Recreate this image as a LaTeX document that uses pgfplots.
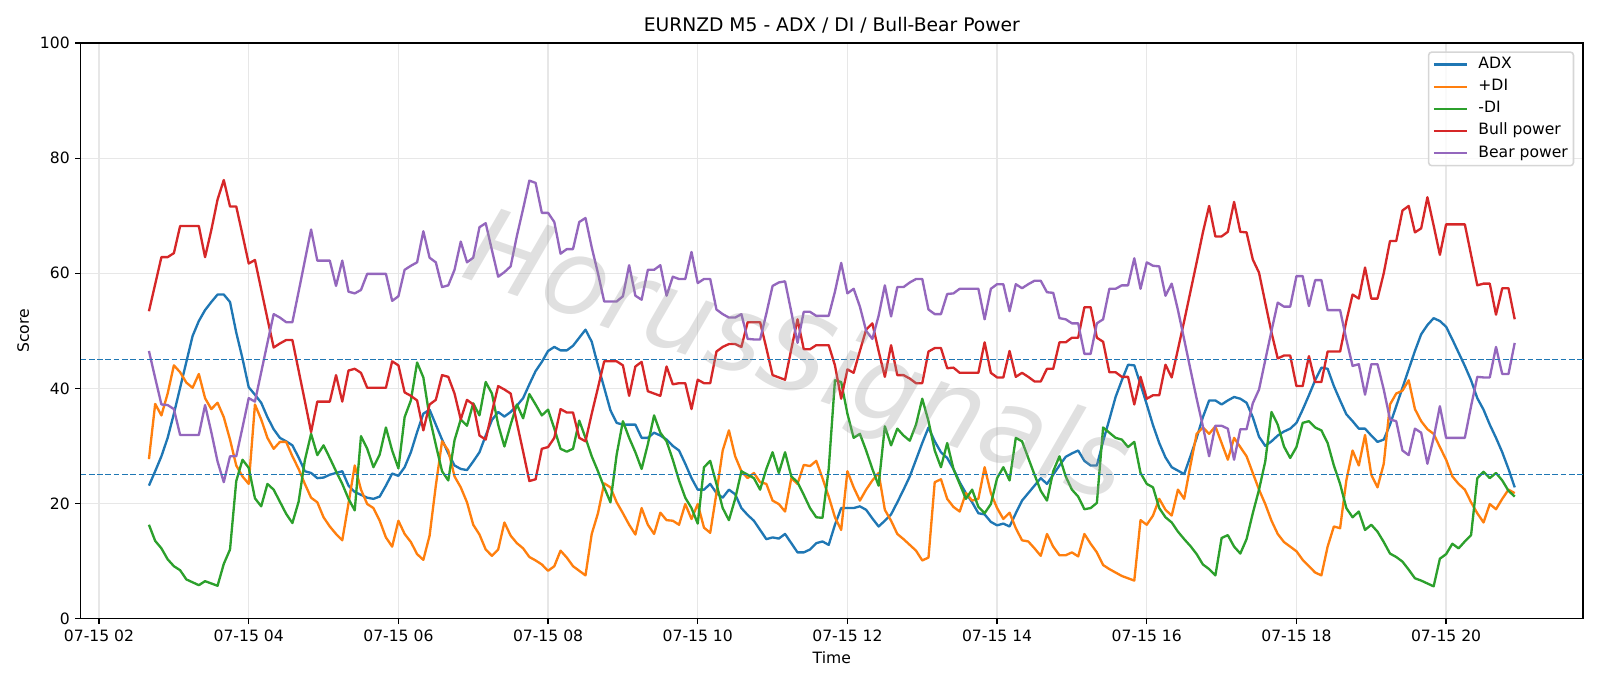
\documentclass[border=0pt]{standalone}
\usepackage{fontspec}
\setmainfont{DejaVu Sans}
\usepackage{pgfplots}
\pgfplotsset{compat=1.18}
\usepackage{pgfplotstable}
\definecolor{tabblue}{HTML}{1F77B4}
\definecolor{taborange}{HTML}{FF7F0E}
\definecolor{tabgreen}{HTML}{2CA02C}
\definecolor{tabred}{HTML}{D62728}
\definecolor{tabpurple}{HTML}{9467BD}
\definecolor{gridgray}{HTML}{E7E7E7}
\definecolor{legendgray}{HTML}{D6D6D6}

\pgfplotstableread{
i adx pdi mdi bull bear
0 23.1 27.7 16.3 53.4 46.5
1 25.6 37.3 13.5 58.1 41.8
2 28.2 35.3 12.2 62.8 37.2
3 31.4 39.1 10.3 62.8 37.1
4 35.6 44.0 9.1 63.5 36.4
5 40.1 42.8 8.4 68.2 31.9
6 44.6 41.0 6.8 68.2 31.9
7 49.1 40.1 6.3 68.2 31.9
8 51.7 42.5 5.8 68.2 31.9
9 53.6 38.3 6.5 62.8 37.1
10 55.0 36.4 6.1 67.5 32.4
11 56.3 37.5 5.7 72.8 27.3
12 56.3 35.0 9.5 76.2 23.7
13 55.0 31.1 12.0 71.6 28.2
14 49.7 26.6 23.9 71.6 28.2
15 45.2 24.7 27.6 66.7 33.2
16 40.2 23.4 26.2 61.7 38.3
17 38.9 37.2 20.9 62.3 37.7
18 37.5 34.6 19.5 57.2 42.8
19 35.0 31.4 23.4 52.1 47.9
20 32.9 29.5 22.4 47.1 52.9
21 31.4 30.7 20.3 47.8 52.3
22 30.8 30.7 18.2 48.4 51.5
23 30.1 28.2 16.6 48.4 51.5
24 28.0 26.0 20.3 43.1 56.8
25 25.6 23.4 27.5 37.8 62.2
26 25.3 21.0 32.1 32.4 67.6
27 24.4 20.2 28.4 37.7 62.2
28 24.5 17.6 30.1 37.7 62.2
29 25.0 16.0 27.9 37.7 62.2
30 25.3 14.7 25.6 42.3 57.8
31 25.6 13.6 23.4 37.7 62.2
32 23.1 20.0 20.8 43.1 56.8
33 22.0 26.6 18.8 43.4 56.5
34 21.5 22.4 31.7 42.7 57.1
35 21.0 19.9 29.5 40.1 59.9
36 20.8 19.2 26.3 40.1 59.9
37 21.2 17.0 28.5 40.1 59.9
38 23.1 14.1 33.2 40.1 59.9
39 25.2 12.5 29.2 44.7 55.2
40 24.8 17.0 26.1 44.0 56.0
41 26.3 14.7 35.0 39.3 60.6
42 28.9 13.3 37.9 38.7 61.3
43 32.4 11.2 44.5 37.9 61.9
44 35.6 10.2 41.9 32.7 67.3
45 36.3 14.4 35.0 37.2 62.7
46 33.7 23.1 30.2 38.0 61.9
47 31.1 30.8 25.6 42.3 57.6
48 28.7 29.2 24.0 42.0 57.9
49 26.6 24.7 31.0 39.1 60.6
50 26.0 22.8 34.6 34.6 65.5
51 25.8 20.2 33.5 38.0 61.9
52 27.3 16.3 37.4 37.2 62.7
53 28.9 14.6 35.3 31.8 68.0
54 31.8 12.0 41.1 31.1 68.7
55 34.5 10.9 39.1 35.9 64.0
56 35.9 12.0 33.7 40.4 59.4
57 35.1 16.7 29.9 39.8 60.2
58 35.9 14.4 33.7 39.1 61.2
59 37.0 13.1 37.2 34.0 66.5
60 38.3 12.2 34.8 29.0 71.2
61 40.7 10.7 39.0 23.9 76.1
62 43.0 10.1 37.2 24.2 75.7
63 44.6 9.4 35.3 29.5 70.5
64 46.5 8.3 36.3 29.8 70.5
65 47.2 9.1 33.0 31.4 68.9
66 46.6 11.8 29.5 36.4 63.4
67 46.6 10.6 29.0 35.8 64.2
68 47.4 9.1 29.5 35.8 64.2
69 48.8 8.3 34.4 31.4 68.9
70 50.2 7.5 31.4 30.8 69.6
71 48.1 14.7 28.2 35.6 64.5
72 44.0 18.3 25.6 40.1 60.0
73 40.1 23.5 22.8 44.7 55.1
74 36.2 22.8 20.2 44.7 55.1
75 34.0 20.2 28.5 44.7 55.1
76 33.7 18.3 34.3 44.0 56.0
77 33.7 16.3 31.4 38.7 61.4
78 33.7 14.6 28.9 43.8 56.1
79 31.4 19.2 26.0 44.6 55.4
80 31.4 16.3 30.3 39.5 60.6
81 32.3 14.7 35.3 39.1 60.6
82 31.8 18.4 32.3 38.7 61.4
83 31.1 17.1 30.8 43.8 56.1
84 30.0 17.0 27.6 40.7 59.4
85 29.2 16.3 24.0 40.9 59.0
86 26.9 19.9 21.0 40.9 59.0
87 24.4 17.3 19.2 36.4 63.7
88 22.4 19.9 16.5 41.5 58.3
89 22.4 15.8 26.3 40.9 59.0
90 23.4 14.9 27.4 40.9 59.0
91 21.8 21.8 23.4 46.4 53.7
92 21.0 29.2 19.2 47.2 52.9
93 22.4 32.7 17.1 47.7 52.3
94 21.6 28.2 20.8 47.7 52.3
95 19.2 25.6 25.6 47.2 52.9
96 18.0 24.4 25.0 51.5 48.6
97 17.0 25.3 24.4 51.5 48.5
98 15.4 23.7 22.4 51.5 48.5
99 13.8 23.4 26.0 47.0 53.0
100 14.1 20.5 28.9 42.3 57.8
101 13.9 19.9 25.3 41.9 58.4
102 14.7 18.6 28.9 41.5 58.6
103 13.1 24.4 24.7 46.8 53.3
104 11.5 23.4 23.7 52.0 47.9
105 11.5 26.7 21.5 46.8 53.3
106 12.0 26.5 19.2 46.8 53.3
107 13.1 27.4 17.6 47.5 52.6
108 13.4 24.4 17.5 47.5 52.6
109 12.8 21.2 26.0 47.5 52.6
110 16.3 17.6 41.4 44.0 56.8
111 19.2 15.4 41.1 38.2 61.8
112 19.2 25.6 35.6 43.3 56.5
113 19.2 22.8 31.4 42.7 57.3
114 19.5 20.5 32.1 46.5 54.2
115 18.9 22.4 29.2 50.2 50.0
116 17.4 24.0 26.0 51.3 48.6
117 16.0 25.3 23.1 46.5 52.6
118 17.0 18.9 33.4 42.0 57.9
119 18.1 17.0 30.1 47.5 52.5
120 20.2 14.7 33.0 42.3 57.6
121 22.4 13.8 31.8 42.3 57.6
122 24.7 12.8 30.9 41.7 58.4
123 27.6 11.8 33.7 40.9 59.0
124 30.5 10.1 38.2 40.9 59.0
125 33.2 10.6 34.3 46.4 53.7
126 30.8 23.7 29.2 47.0 52.9
127 28.9 24.2 26.3 47.0 52.9
128 27.9 20.8 30.5 43.5 56.4
129 26.0 19.4 26.0 43.6 56.5
130 23.7 18.6 23.4 42.7 57.3
131 21.8 21.8 20.8 42.7 57.3
132 20.2 20.5 22.4 42.7 57.3
133 18.3 20.8 19.4 42.7 57.3
134 18.1 26.3 18.3 48.0 52.0
135 16.8 21.8 19.9 42.7 57.3
136 16.2 19.2 24.4 41.9 58.1
137 16.5 17.3 26.3 41.9 58.1
138 16.0 18.4 24.0 46.5 53.4
139 18.3 15.7 31.4 42.0 58.1
140 20.5 13.6 30.8 42.7 57.4
141 21.8 13.4 27.9 42.0 58.1
142 23.1 12.2 25.0 41.2 58.7
143 24.4 10.9 22.2 41.2 58.7
144 23.4 14.7 20.5 43.4 56.7
145 25.0 12.5 25.6 43.4 56.6
146 26.6 11.0 28.2 48.0 52.2
147 28.1 11.0 24.7 48.0 52.0
148 28.7 11.5 22.4 48.8 51.3
149 29.2 10.8 21.2 48.8 51.3
150 27.4 14.7 19.0 54.1 46.0
151 26.6 13.0 19.2 54.1 46.0
152 26.6 11.5 20.1 48.8 51.3
153 30.8 9.3 33.2 48.1 52.0
154 34.6 8.6 32.3 42.8 57.3
155 38.5 8.0 31.4 42.8 57.3
156 41.4 7.4 31.1 42.0 57.9
157 44.1 7.0 29.8 42.0 57.9
158 44.0 6.6 30.7 37.2 62.6
159 40.7 17.1 25.3 42.0 57.3
160 37.2 16.3 23.4 38.2 61.9
161 33.6 17.9 22.8 38.8 61.3
162 30.5 20.8 19.2 38.8 61.2
163 28.0 18.9 17.6 44.1 56.1
164 26.3 17.9 16.7 41.9 58.2
165 25.7 22.4 15.1 46.8 53.6
166 25.1 20.8 13.8 51.7 48.5
167 28.2 26.6 12.6 56.8 43.3
168 31.4 32.1 11.2 61.9 38.2
169 35.0 33.2 9.4 67.1 33.4
170 37.9 32.1 8.6 71.7 28.2
171 37.9 33.4 7.5 66.4 33.5
172 37.2 30.5 14.0 66.4 33.5
173 37.9 27.6 14.5 67.2 33.0
174 38.5 31.4 12.5 72.4 27.6
175 38.2 29.8 11.3 67.2 32.9
176 37.5 28.2 13.8 67.1 32.9
177 35.0 25.3 18.3 62.4 37.4
178 31.6 22.4 22.4 60.1 39.8
179 30.0 19.9 27.3 54.9 44.9
180 30.8 17.0 35.9 49.7 50.0
181 31.8 14.7 33.7 45.2 54.9
182 32.5 13.3 29.9 45.7 54.2
183 33.0 12.5 27.9 45.7 54.2
184 34.0 11.7 29.8 40.4 59.5
185 36.3 10.2 34.0 40.4 59.5
186 38.8 9.1 34.3 45.6 54.3
187 41.4 8.0 33.2 41.1 58.8
188 43.6 7.5 32.7 41.1 58.8
189 43.4 12.5 30.5 46.4 53.6
190 40.4 16.0 26.6 46.4 53.6
191 37.9 15.7 23.4 46.4 53.6
192 35.5 24.0 19.2 51.7 48.5
193 34.3 29.2 17.6 56.3 43.9
194 33.0 26.6 18.6 55.6 44.2
195 33.0 31.9 15.4 61.0 38.9
196 31.8 25.0 16.3 55.6 44.2
197 30.7 22.8 15.1 55.6 44.2
198 31.1 26.9 13.3 60.0 39.8
199 33.7 37.2 11.3 65.6 34.6
200 36.9 39.1 10.7 65.6 34.3
201 40.1 39.6 9.9 70.9 29.2
202 43.3 41.4 8.5 71.7 28.4
203 46.5 36.4 7.0 67.1 33.0
204 49.4 34.3 6.6 67.8 32.3
205 51.0 32.9 6.1 73.2 26.9
206 52.2 32.1 5.6 68.3 31.4
207 51.7 29.8 10.4 63.2 36.9
208 50.7 27.6 11.2 68.5 31.4
209 48.5 24.7 13.0 68.5 31.4
210 46.2 23.4 12.2 68.5 31.4
211 43.9 22.4 13.4 68.5 31.4
212 41.4 20.2 14.5 63.2 36.9
213 38.3 18.3 24.4 57.9 42.0
214 36.3 16.7 25.5 58.2 41.9
215 33.7 19.9 24.4 58.2 41.9
216 31.4 19.0 25.3 52.8 47.2
217 28.9 20.8 24.0 57.4 42.5
218 26.0 22.4 22.2 57.4 42.5
219 22.8 21.8 21.2 52.0 47.9
}\data

\begin{document}
\begin{tikzpicture}
\begin{axis}[
  scale only axis,
  width=963pt, height=368.9pt,
  xmin=105.25, xmax=1309.75, ymin=0, ymax=100,
  xtick={120,240,360,480,600,720,840,960,1080,1200},
  xticklabels={07-15 02,07-15 04,07-15 06,07-15 08,07-15 10,07-15 12,07-15 14,07-15 16,07-15 18,07-15 20},
  ytick={0,20,40,60,80,100},
  /pgf/number format/assume math mode=true,
  tick pos=left,
  tick align=outside,
  major tick length=3.5pt,
  tick style={black, line width=0.8pt},
  axis line style={black, line width=0.8pt},
  grid=major,
  major grid style={draw=gridgray, line width=0.8pt},
  tick label style={font=\fontsize{10}{12}\selectfont},
  label style={font=\fontsize{10}{12}\selectfont},
  xlabel={Time}, ylabel={Score},
  title={EURNZD M5 - ADX / DI / Bull-Bear Power},
  title style={font=\fontsize{12}{14.4}\selectfont, inner sep=0pt, anchor=south, at={(0.5,1)}, yshift=0.2pt},
  every axis plot/.append style={line width=1.5pt, line join=round, no markers},
  legend cell align=left,
  legend image code/.code={\draw[#1, line width=1.5pt, opacity=1] (0pt,0pt) -- (21.4pt,0pt);},
  legend style={at={(1,1)}, anchor=north east, xshift=-5.6pt, yshift=-5.3pt,
    draw=legendgray, line width=1pt, rounded corners=2pt,
    fill=white, fill opacity=0.8, text opacity=1,
    inner xsep=2.6pt, inner ysep=2pt, row sep=2.2pt, column sep=5.4pt,
    nodes={inner sep=1pt, text height=7.5pt, text depth=2.5pt},
    font=\fontsize{10}{12}\selectfont},
]
\addplot[tabblue] table[x expr=160+5*\thisrow{i}, y=adx] {\data};
\addlegendentry{ADX}
\addplot[taborange] table[x expr=160+5*\thisrow{i}, y=pdi] {\data};
\addlegendentry{+DI}
\addplot[tabgreen] table[x expr=160+5*\thisrow{i}, y=mdi] {\data};
\addlegendentry{-DI}
\addplot[tabred] table[x expr=160+5*\thisrow{i}, y=bull] {\data};
\addlegendentry{Bull power}
\addplot[tabpurple] table[x expr=160+5*\thisrow{i}, y=bear] {\data};
\addlegendentry{Bear power}
\addplot[tabblue, line width=1pt, dash pattern=on 3.7pt off 1.6pt, forget plot] coordinates {(105.25,45) (1309.75,45)};
\addplot[tabblue, line width=1pt, dash pattern=on 3.7pt off 1.6pt, forget plot] coordinates {(105.25,25) (1309.75,25)};
\node[rotate=-19, opacity=0.3, text=gray!80, font=\fontsize{68}{68}\selectfont\itshape] at (axis cs:679,44.6) {HorusSignals};
\end{axis}
\path[use as bounding box] ([shift={(-51.7pt,-43.3pt)}]current axis.south west) rectangle ([shift={(10.9pt,27.6pt)}]current axis.north east);
\end{tikzpicture}
\end{document}
